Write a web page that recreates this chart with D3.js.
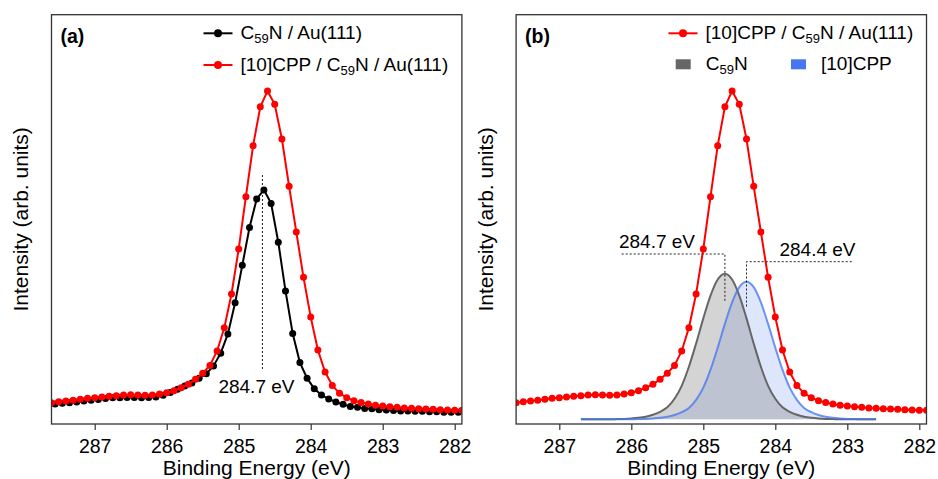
<!DOCTYPE html>
<html>
<head>
<meta charset="utf-8">
<script src="https://cdn.jsdelivr.net/npm/d3@7"></script>
<style>
  body { margin: 0; background: #fff; }
  text { font-family: "Liberation Sans", Arial, Helvetica, sans-serif; fill: #000; }
</style>
</head>
<body>
<svg id="chart" width="938" height="479"></svg>
<script>
// ---- data (intensity in arb. units) ----

// [10]CPP / C59N / Au(111)  (same spectrum in both panels)
const cppEnergy = [
  287.6, 287.5, 287.4, 287.3, 287.2, 287.1, 287.0,
  286.9, 286.8, 286.7, 286.6, 286.5, 286.4, 286.3, 286.2, 286.1, 286.0,
  285.9, 285.8, 285.7, 285.6, 285.5, 285.4, 285.3, 285.2, 285.1, 285.0,
  284.9, 284.8, 284.7, 284.6, 284.5, 284.4, 284.3, 284.2, 284.1, 284.0,
  283.9, 283.8, 283.7, 283.6, 283.5, 283.4, 283.3, 283.2, 283.1, 283.0,
  282.9, 282.8, 282.7, 282.6, 282.5, 282.4, 282.3, 282.2, 282.1, 282.0, 281.9
];
const cppIntensity = [
  5.2, 5.45, 5.62, 5.79, 6.03, 6.28, 6.43,
  6.6, 6.77, 6.91, 7.09, 7.16, 7.09, 7.01, 7.09, 7.33, 7.65,
  8.14, 8.87, 9.7, 10.92, 12.39, 14.29, 17.84, 23.53, 31.76, 42.76,
  55.53, 68.0, 77.52, 81.36, 78.11, 69.63, 58.07, 46.91, 35.84, 26.14,
  18.08, 12.7, 9.41, 7.5, 6.43, 5.69, 5.25, 4.89, 4.59, 4.4,
  4.23, 4.08, 3.91, 3.84, 3.74, 3.66, 3.59, 3.49, 3.42, 3.35, 3.35
];

// C59N / Au(111)
const c59nEnergy = [
  287.55, 287.45, 287.35, 287.25, 287.15, 287.05, 286.95,
  286.85, 286.75, 286.65, 286.55, 286.45, 286.35, 286.25, 286.15, 286.05, 285.95,
  285.85, 285.75, 285.65, 285.55, 285.45, 285.35, 285.25, 285.15, 285.05, 284.95,
  284.85, 284.75, 284.65, 284.55, 284.45, 284.35, 284.25, 284.15, 284.05, 283.95,
  283.85, 283.75, 283.65, 283.55, 283.45, 283.35, 283.25, 283.15, 283.05, 282.95,
  282.85, 282.75, 282.65, 282.55, 282.45, 282.35, 282.25, 282.15, 282.05, 281.95
];
const c59nIntensity = [
  4.9, 5.1, 5.2, 5.4, 5.6, 5.8, 6.0,
  6.2, 6.4, 6.4, 6.5, 6.5, 6.4, 6.5, 6.6, 7.0, 7.7,
  8.5, 9.3, 10.0, 11.2, 12.3, 14.2, 17.3, 22.0, 29.6, 38.8,
  48.0, 55.0, 57.2, 53.9, 44.4, 32.5, 22.1, 15.0, 11.2, 8.6,
  7.1, 6.1, 5.4, 4.8, 4.3, 4.1, 3.8, 3.7, 3.5, 3.4,
  3.3, 3.2, 3.2, 3.1, 3.1, 3.0, 3.0, 2.9, 2.9, 2.9
];

// fitted components in panel (b)
const fitBaseline = 1.15;
const fitEnergy = [
  286.7, 286.6, 286.5, 286.4, 286.3, 286.2, 286.1, 286.0,
  285.9, 285.8, 285.7, 285.6, 285.5, 285.4, 285.3, 285.2, 285.1, 285.0,
  284.9, 284.8, 284.7, 284.6, 284.5, 284.4, 284.3, 284.2, 284.1, 284.0,
  283.9, 283.8, 283.7, 283.6, 283.5, 283.4, 283.3, 283.2, 283.1, 283.0,
  282.9, 282.8, 282.7, 282.6
];
const fitC59n = [
  1.15, 1.15, 1.15, 1.15, 1.15, 1.20, 1.25, 1.35,
  1.52, 1.79, 2.25, 2.98, 4.08, 6.16, 9.33, 13.98, 19.67, 25.80,
  31.37, 35.31, 36.72, 35.31, 31.37, 25.80, 19.67, 13.98, 9.33, 6.16,
  4.08, 2.98, 2.25, 1.79, 1.52, 1.35, 1.25, 1.20, 1.15, 1.15,
  1.15, 1.15, 1.15, 1.15
];
const fitCpp = [
  1.15, 1.15, 1.15, 1.15, 1.15, 1.15, 1.15, 1.15,
  1.20, 1.24, 1.34, 1.50, 1.75, 2.19, 2.88, 3.92, 5.88, 8.88,
  13.27, 18.65, 24.45, 29.71, 33.43, 34.77, 33.43, 29.71, 24.45, 18.65,
  13.27, 8.88, 5.88, 3.92, 2.88, 2.19, 1.75, 1.50, 1.34, 1.24,
  1.20, 1.15, 1.15, 1.15
];

const xTicks = [287, 286, 285, 284, 283, 282];
const xDomain = [287.6, 281.9];
const peakC59nOnly = 284.67;
const peakC59n = 284.7;
const peakCpp = 284.4;

// ---- layout ----
const svg = d3.select('#chart');
const plotW = 410.4, plotTop = 14.7, plotBottom = 424;
const RED = '#ff0000', BLUE = '#4876ee', GRAY = '#666666';

const y = d3.scaleLinear().domain([0, 100]).range([plotBottom, plotTop]);

function addText(g, x, yPos, parts, opts = {}) {
    // parts: [text, isSubscript]
    const t = g.append('text')
        .attr('x', x).attr('y', yPos)
        .attr('font-size', opts.size || 19)
        .attr('text-anchor', opts.anchor || 'start');
    let shifted = false;
    parts.forEach(([s, sub]) => {
        const ts = t.append('tspan').text(s);
        if (sub && !shifted) { ts.attr('dy', 4).attr('font-size', 13); shifted = true; }
        else if (!sub && shifted) { ts.attr('dy', -4); shifted = false; }
    });
    return t;
}

function makePanel(left, id, label) {
    const x = d3.scaleLinear().domain(xDomain).range([left, left + plotW]);
    const g = svg.append('g').attr('class', 'panel-' + id);

    g.append('clipPath').attr('id', 'clip-' + id)
        .append('rect')
        .attr('x', left).attr('y', plotTop)
        .attr('width', plotW).attr('height', plotBottom - plotTop);

    const axis = g.append('g')
        .attr('transform', `translate(0,${plotBottom})`)
        .call(d3.axisBottom(x).tickValues(xTicks).tickSize(6).tickPadding(9).tickFormat(d3.format('d')));
    axis.select('.domain').remove();
    axis.selectAll('line').attr('stroke', '#333').attr('stroke-width', 1.2);
    axis.selectAll('text').attr('font-size', 19.5).attr('fill', '#000');

    g.append('text')
        .attr('x', left + plotW / 2).attr('y', 475)
        .attr('text-anchor', 'middle').attr('font-size', 21)
        .text('Binding Energy (eV)');

    const ty = (plotTop + plotBottom) / 2;
    const tx = left - 23.5;
    g.append('text')
        .attr('transform', `translate(${tx},${ty}) rotate(-90)`)
        .attr('text-anchor', 'middle').attr('font-size', 21)
        .text('Intensity (arb. units)');

    g.append('text')
        .attr('x', left + 9).attr('y', 43)
        .attr('font-size', 19.5).attr('font-weight', 'bold')
        .text(label);

    const plot = g.append('g').attr('clip-path', `url(#clip-${id})`);
    return { g, plot, x, left };
}

function drawSeries(plot, x, energy, values, color) {
    const line = d3.line()
        .x((d, i) => x(energy[i]))
        .y(d => y(d));
    plot.append('path')
        .datum(values)
        .attr('d', line)
        .attr('fill', 'none')
        .attr('stroke', color)
        .attr('stroke-width', 2);
    plot.append('g')
        .selectAll('circle')
        .data(values)
        .join('circle')
        .attr('cx', (d, i) => x(energy[i]))
        .attr('cy', d => y(d))
        .attr('r', 3.5)
        .attr('fill', color);
}

function fitArea(x, values) {
    return d3.area()
        .curve(d3.curveMonotoneX)
        .x((d, i) => x(fitEnergy[i]))
        .y0(y(fitBaseline))
        .y1(d => y(d));
}

function legendLine(g, x0, yPos, color, parts) {
    g.append('line')
        .attr('x1', x0).attr('x2', x0 + 29)
        .attr('y1', yPos).attr('y2', yPos)
        .attr('stroke', color).attr('stroke-width', 2);
    g.append('circle').attr('cx', x0 + 14.5).attr('cy', yPos).attr('r', 4).attr('fill', color);
    addText(g, x0 + 37, yPos + 6, parts);
}

function legendBox(g, x0, yPos, color, parts) {
    g.append('rect')
        .attr('x', x0).attr('y', yPos - 5)
        .attr('width', 15).attr('height', 10)
        .attr('fill', color);
    addText(g, x0 + 30, yPos + 6, parts);
}

function frame(g, left) {
    g.append('rect')
        .attr('x', left).attr('y', plotTop)
        .attr('width', plotW).attr('height', plotBottom - plotTop)
        .attr('fill', 'none').attr('stroke', '#333').attr('stroke-width', 1.3);
}

// ---- panel (a) ----
const a = makePanel(51.5, 'a', '(a)');
a.plot.append('line')
    .attr('x1', a.x(peakC59nOnly)).attr('x2', a.x(peakC59nOnly))
    .attr('y1', 175).attr('y2', 369)
    .attr('stroke', '#222').attr('stroke-width', 1).attr('stroke-dasharray', '2,2');
drawSeries(a.plot, a.x, c59nEnergy, c59nIntensity, '#000');
drawSeries(a.plot, a.x, cppEnergy, cppIntensity, RED);
addText(a.g, a.x(peakC59nOnly) - 6, 393, [['284.7 eV']], { anchor: 'middle' });
legendLine(a.g, 203.5, 33.3, '#000', [['C'], ['59', true], ['N / Au(111)']]);
legendLine(a.g, 203.5, 65, RED, [['[10]CPP / C'], ['59', true], ['N / Au(111)']]);
frame(a.g, 51.5);

// ---- panel (b) ----
const b = makePanel(516.1, 'b', '(b)');
const cppArea = fitArea(b.x, fitCpp);
const c59nArea = fitArea(b.x, fitC59n);
b.plot.append('path').datum(fitCpp).attr('d', cppArea).attr('fill', 'rgba(72,118,238,0.18)');
b.plot.append('path').datum(fitC59n).attr('d', c59nArea).attr('fill', 'rgba(130,130,130,0.34)');
b.plot.append('path').datum(fitC59n).attr('d', c59nArea.lineY1())
    .attr('fill', 'none').attr('stroke', GRAY).attr('stroke-width', 2);
b.plot.append('path').datum(fitCpp).attr('d', cppArea.lineY1())
    .attr('fill', 'none').attr('stroke', BLUE).attr('stroke-width', 2).attr('stroke-opacity', 0.78);

function elbow(xPeak, yLevel, yEnd, xFar) {
    b.g.append('path')
        .attr('d', `M${xFar},${yLevel}H${xPeak}V${yEnd}`)
        .attr('fill', 'none').attr('stroke', '#222')
        .attr('stroke-width', 1).attr('stroke-dasharray', '2,2');
}
elbow(b.x(peakC59n), 254, 301, 621.7);
elbow(b.x(peakCpp), 261.7, 307.7, 851.7);
addText(b.g, 657, 248.3, [['284.7 eV']], { anchor: 'middle' });
addText(b.g, 817.5, 255.7, [['284.4 eV']], { anchor: 'middle' });

drawSeries(b.plot, b.x, cppEnergy, cppIntensity, RED);
legendLine(b.g, 668.5, 33.3, RED, [['[10]CPP / C'], ['59', true], ['N / Au(111)']]);
legendBox(b.g, 675.7, 64.3, GRAY, [['C'], ['59', true], ['N']]);
legendBox(b.g, 791, 64.3, BLUE, [['[10]CPP']]);
frame(b.g, 516.1);
</script>
</body>
</html>
